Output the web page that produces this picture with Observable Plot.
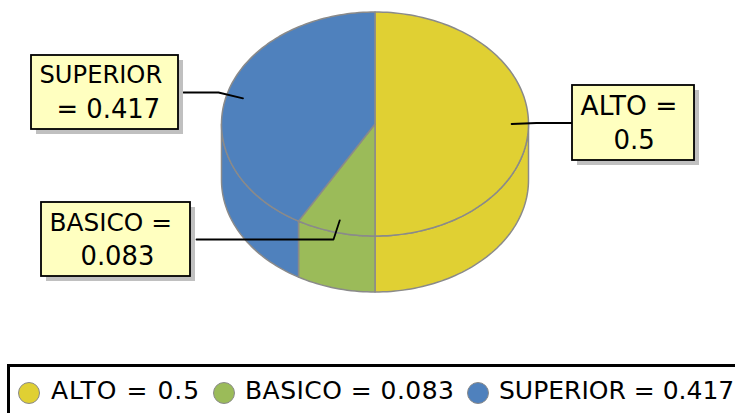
<!DOCTYPE html>
<html>
<head>
<meta charset="utf-8">
<script src="https://cdn.jsdelivr.net/npm/d3@7"></script>
<script src="https://cdn.jsdelivr.net/npm/@observablehq/plot@0.6"></script>
<style>
html,body{margin:0;padding:0;background:#fff;width:735px;height:416px;overflow:hidden;font-family:"DejaVu Sans",sans-serif}
svg{display:block}
#legend{position:relative;margin-left:7px;width:728px;height:49px;box-sizing:border-box;border-top:3px solid #000;border-left:3px solid #000;overflow:hidden}
#legend .sw{position:absolute;top:15px;width:20px;height:20px;border-radius:50%;border:1px solid #8a8a8a}
#legend .tx{position:absolute;top:8px;font-size:25px;line-height:32px;white-space:nowrap;color:#000}
</style>
</head>
<body>
<div id="chart"></div>
<div id="legend"></div>
<script>
// Data
const categories = ["ALTO", "BASICO", "SUPERIOR"];
const shares = [0.5, 0.083, 0.417];
const colors = ["#E0D033", "#9BBB59", "#4F81BD"];
const labelLines = [["ALTO =", "0.5"], ["BASICO =", "0.083"], ["SUPERIOR", "= 0.417"]];

// Layout
const W = 735, H = 364;
const pie = {cx: 374.5, cy: 123.5, rx: 153.5, ry: 112, depth: 56, anchor: 0.89};
const callouts = [
  {box: [572, 85, 694, 160], lines: [[580, 114, 26.5], [613, 148, 26]], elbow: [536, 122.5], end: [572, 122.5]},
  {box: [41, 202, 190, 276], lines: [[49, 230, 24.8], [80, 264, 25.8]], elbow: [333, 239], end: [196, 239]},
  {box: [31, 55, 178, 129], lines: [[39, 82, 24.2], [56, 117, 25.8]], elbow: [218, 92], end: [183, 92]}
];

const pt = (frac, r = 1, dy = 0) => {
  const a = frac * 2 * Math.PI;
  return {x: pie.cx + pie.rx * r * Math.sin(a), y: pie.cy - pie.ry * r * Math.cos(a) + dy};
};
const arc = (f0, f1, dy = 0) => {
  const n = Math.max(2, Math.ceil(Math.abs(f1 - f0) * 240));
  return d3.range(n + 1).map(i => pt(f0 + (f1 - f0) * i / n, 1, dy));
};

let acc = 0;
const slices = categories.map((c, i) => {
  const s = {cat: c, f0: acc, f1: acc + shares[i]};
  acc += shares[i];
  s.mid = (s.f0 + s.f1) / 2;
  return s;
});

// Top wedges
const topPts = slices.flatMap(s => {
  const p = [{x: pie.cx, y: pie.cy}, ...arc(s.f0, s.f1), {x: pie.cx, y: pie.cy}];
  return p.map(q => ({...q, cat: s.cat}));
});
// Visible wall (front half: 0.25..0.75 of the turn)
const wallPts = slices.flatMap(s => {
  const a = Math.max(s.f0, 0.25), b = Math.min(s.f1, 0.75);
  if (b <= a) return [];
  const p = [...arc(a, b), ...arc(b, a, pie.depth)];
  p.push(p[0]);
  return p.map(q => ({...q, cat: s.cat}));
});

const leaders = slices.flatMap((s, i) => {
  const c = callouts[i], a = pt(s.mid, pie.anchor);
  return [
    {x: c.end[0], y: c.end[1], cat: s.cat},
    {x: c.elbow[0], y: c.elbow[1], cat: s.cat},
    {x: a.x, y: a.y, cat: s.cat}
  ];
});
const boxes = callouts.map(c => ({x1: c.box[0], y1: c.box[1], x2: c.box[2], y2: c.box[3]}));
const shadow = boxes.map(b => ({x1: b.x1 + 5, y1: b.y1 + 5, x2: b.x2 + 5, y2: b.y2 + 5}));
const texts = labelLines.flatMap((ls, i) => ls.map((t, j) => ({
  text: t, x: callouts[i].lines[j][0], y: callouts[i].lines[j][1], size: callouts[i].lines[j][2]
})));

const plot = Plot.plot({
  width: W, height: H,
  margin: 0,
  x: {domain: [0, W], range: [0, W], axis: null},
  y: {domain: [0, H], range: [0, H], axis: null},
  color: {domain: categories, range: colors},
  style: {background: "#fff", fontFamily: "DejaVu Sans"},
  marks: [
    Plot.line(wallPts, {x: "x", y: "y", z: "cat", fill: "cat", stroke: "#8a8a8a", strokeWidth: 1.5, curve: "linear"}),
    Plot.line(topPts, {x: "x", y: "y", z: "cat", fill: "cat", stroke: "#8a8a8a", strokeWidth: 1.5, curve: "linear"}),
    Plot.line(leaders, {x: "x", y: "y", z: "cat", stroke: "#000", strokeWidth: 1.8, curve: "linear"}),
    Plot.rect(shadow, {x1: "x1", x2: "x2", y1: "y1", y2: "y2", fill: "#c0c0c0"}),
    Plot.rect(boxes, {x1: "x1", x2: "x2", y1: "y1", y2: "y2", fill: "#FFFFC0", stroke: "#000", strokeWidth: 1.8}),
    ...texts.map(t => Plot.text([t], {x: "x", y: "y", text: "text", textAnchor: "start", lineAnchor: "bottom", fontSize: t.size, fill: "#000"}))
  ]
});
document.getElementById("chart").appendChild(plot);

// Legend
const legendX = [[18, 41, 1], [213, 235, 0.45], [467, 489, 0]];
const legend = d3.select("#legend");
categories.forEach((c, i) => {
  legend.append("div").attr("class", "sw").style("left", (legendX[i][0] - 10) + "px").style("background", colors[i]);
  legend.append("div").attr("class", "tx").style("left", legendX[i][1] + "px").style("letter-spacing", legendX[i][2] + "px").text(`${c} = ${shares[i]}`);
});
</script>
</body>
</html>
